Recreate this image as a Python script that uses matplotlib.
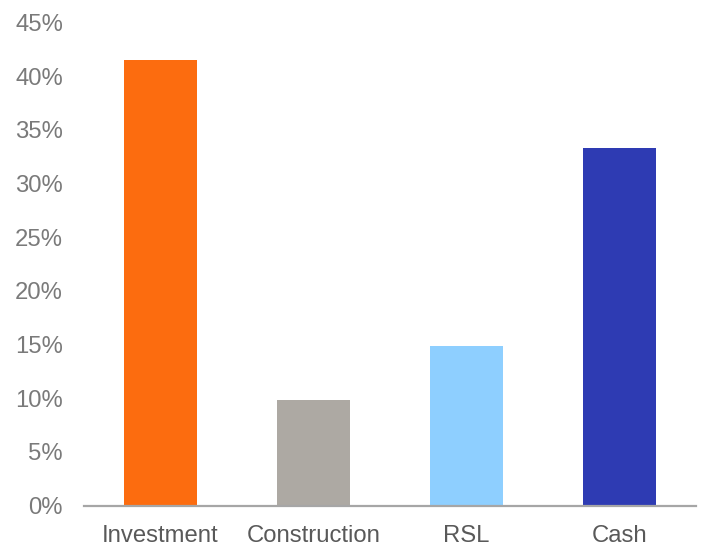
import matplotlib
matplotlib.use("Agg")
import matplotlib.pyplot as plt
from matplotlib.ticker import FuncFormatter

categories = ["Investment", "Construction", "RSL", "Cash"]
values = [41.5, 9.8, 14.9, 33.3]
colors = ["#FC6C0F", "#ADA9A3", "#8ECFFF", "#2E3BB3"]
yticks = [0, 5, 10, 15, 20, 25, 30, 35, 40, 45]

plt.rcParams['font.family'] = ['Liberation Sans', 'DejaVu Sans']

fig = plt.figure(figsize=(7.04, 5.46), dpi=100)
ax = fig.add_axes([0.119, 0.074, 0.870, 0.885])
x = range(len(categories))
ax.bar(x, values, width=0.48, color=colors, zorder=2)
ax.set_xlim(-0.5, len(categories) - 0.5)
ax.set_ylim(0, 45)
ax.set_yticks(yticks)
ax.yaxis.set_major_formatter(FuncFormatter(lambda v, p: f"{v:.0f}%"))
ax.set_xticks(list(x))
ax.set_xticklabels(categories)
for s in ["top", "right", "left"]:
    ax.spines[s].set_visible(False)
ax.spines["bottom"].set_color("#A6A6A6")
ax.spines["bottom"].set_linewidth(1.6)
ax.tick_params(axis="y", length=0, pad=15, labelsize=17.2, labelcolor="#7A7A7A")
ax.tick_params(axis="x", length=0, pad=14, labelsize=17.2, labelcolor="#595959")
fig.savefig("out.png", dpi=100)
